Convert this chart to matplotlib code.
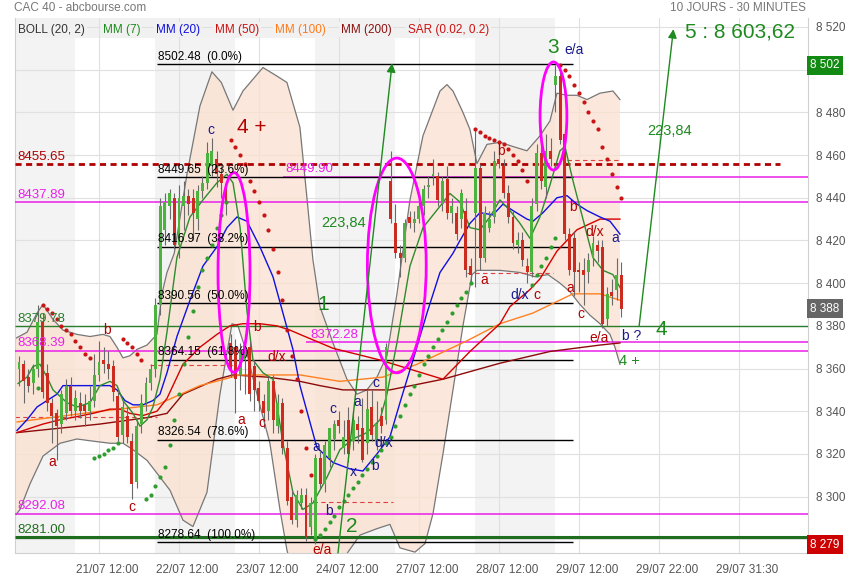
import numpy as np
import matplotlib.pyplot as plt
from matplotlib.patches import Ellipse
from matplotlib.transforms import blended_transform_factory

plt.rcParams['font.family'] = ['Liberation Sans', 'DejaVu Sans']

# bar index: 0 = first half-hour bar of 21/07, 17 bars per session
bars = np.arange(-11, 118)

opens = ([8360, 8362, 8356, 8353, 8360, 8382, 8358, 8344, 8339, 8334, 8339]
         + [8352, 8340, 8344, 8343, 8340, 8345, 8357, 8364, 8362, 8361, 8347, 8329, 8338, 8326, 8307, 8334, 8344]
         + [8353, 8360, 8390, 8425, 8436, 8440, 8418, 8436, 8441, 8440, 8430, 8443, 8447, 8455, 8458, 8451, 8444]
         + [8372, 8370, 8357, 8364, 8370, 8361, 8351, 8345, 8340, 8354, 8333, 8344, 8323, 8300, 8289, 8297, 8301]
         + [8286, 8280, 8318, 8306, 8318, 8327, 8336, 8323, 8336, 8326, 8334, 8332, 8325, 8342, 8326, 8338, 8336]
         + [8448, 8428, 8414, 8412, 8431, 8428, 8430, 8436, 8445, 8450, 8450, 8437, 8449, 8433, 8433, 8430, 8434]
         + [8408, 8433, 8454, 8412, 8426, 8431, 8458, 8455, 8442, 8431, 8418, 8420, 8408, 8405, 8437, 8461, 8445]
         + [8462, 8493, 8497, 8470, 8423, 8421, 8406, 8406, 8405, 8412, 8418, 8417, 8383, 8396, 8397, 8404])
highs = ([8366, 8364, 8360, 8362, 8390, 8386, 8362, 8346, 8341, 8350, 8355]
         + [8356, 8350, 8349, 8348, 8352, 8367, 8373, 8370, 8368, 8364, 8350, 8345, 8342, 8330, 8336, 8348, 8356]
         + [8362, 8393, 8440, 8442, 8444, 8442, 8446, 8448, 8444, 8444, 8446, 8450, 8466, 8468, 8462, 8455, 8448]
         + [8376, 8374, 8372, 8376, 8373, 8364, 8354, 8348, 8356, 8357, 8348, 8346, 8326, 8303, 8303, 8304, 8304]
         + [8300, 8320, 8322, 8326, 8332, 8336, 8340, 8336, 8342, 8340, 8338, 8346, 8350, 8350, 8345, 8342, 8372]
         + [8462, 8437, 8418, 8430, 8434, 8434, 8440, 8446, 8450, 8458, 8452, 8450, 8455, 8440, 8436, 8444, 8440]
         + [8412, 8472, 8456, 8436, 8434, 8462, 8466, 8458, 8446, 8434, 8424, 8424, 8412, 8440, 8465, 8472, 8470]
         + [8468, 8502, 8502, 8472, 8426, 8424, 8410, 8412, 8414, 8422, 8420, 8420, 8398, 8402, 8412, 8410])
lows = ([8352, 8344, 8349, 8348, 8356, 8346, 8340, 8325, 8317, 8330, 8336]
        + [8338, 8336, 8337, 8333, 8336, 8342, 8354, 8358, 8355, 8345, 8326, 8325, 8325, 8299, 8304, 8330, 8340]
        + [8350, 8356, 8385, 8418, 8430, 8416, 8412, 8425, 8432, 8420, 8425, 8440, 8444, 8450, 8445, 8440, 8432]
        + [8356, 8339, 8350, 8348, 8345, 8340, 8340, 8332, 8336, 8330, 8330, 8320, 8296, 8287, 8286, 8294, 8279]
        + [8282, 8278, 8304, 8302, 8314, 8322, 8330, 8320, 8316, 8322, 8325, 8316, 8320, 8326, 8322, 8330, 8334]
        + [8428, 8412, 8403, 8410, 8426, 8424, 8428, 8432, 8440, 8446, 8436, 8434, 8430, 8428, 8420, 8426, 8403]
        + [8400, 8398, 8406, 8410, 8424, 8428, 8454, 8440, 8428, 8416, 8414, 8408, 8400, 8403, 8434, 8444, 8440]
        + [8455, 8480, 8465, 8420, 8404, 8394, 8396, 8390, 8400, 8408, 8410, 8379, 8380, 8390, 8392, 8384])
closes = ([8363, 8354, 8352, 8360, 8382, 8349, 8344, 8338, 8333, 8348, 8352]
          + [8340, 8346, 8340, 8340, 8345, 8357, 8363, 8362, 8360, 8349, 8328, 8342, 8328, 8306, 8333, 8344, 8353]
          + [8360, 8390, 8436, 8438, 8442, 8418, 8440, 8441, 8437, 8433, 8443, 8447, 8461, 8462, 8451, 8447, 8437]
          + [8360, 8355, 8368, 8371, 8348, 8350, 8345, 8339, 8354, 8336, 8344, 8323, 8298, 8289, 8301, 8301, 8281]
          + [8297, 8318, 8306, 8324, 8332, 8334, 8333, 8328, 8320, 8336, 8331, 8317, 8341, 8329, 8334, 8333, 8370]
          + [8430, 8414, 8412, 8428, 8428, 8430, 8436, 8444, 8446, 8451, 8439, 8448, 8433, 8436, 8423, 8442, 8406]
          + [8404, 8454, 8412, 8433, 8430, 8457, 8456, 8442, 8431, 8419, 8420, 8411, 8405, 8436, 8461, 8448, 8462]
          + [8458, 8497, 8467, 8423, 8406, 8405, 8405, 8404, 8411, 8419, 8415, 8381, 8395, 8394, 8404, 8388])

# parabolic SAR, one value per bar (None = not drawn)
sar = ([None, None, None, None, 8351]
       + [8390, 8388, 8386, 8383, 8380, 8378, 8376, 8373, 8370, 8367, 8365]
       + [8318, 8319, 8320, 8322, 8323, 8325]
       + [8374, 8372, 8370, 8367, 8364]
       + [8299, 8301, 8305, 8309, 8314, 8324, 8336, 8348, 8362, 8375, 8387, 8398, 8406, 8412, 8418, 8426, 8432, 8438]
       + [8467, 8464, 8460, 8456, 8448, 8443, 8438, 8432, 8425, 8416, 8405, 8392, 8378, 8366, 8355, 8340, 8323, 8310]
       + [8280, 8282, 8285, 8288, 8291, 8295, 8298, 8301, 8304, 8307, 8310, 8313, 8316, 8319, 8322, 8325, 8328,
          8333, 8338, 8343, 8348, 8352, 8357, 8362, 8366, 8370, 8374, 8378, 8382, 8386, 8390, 8393, 8396, 8400]
       + [8472, 8471, 8469, 8468, 8467, 8466, 8465, 8463, 8460, 8457, 8453, 8448]
       + [8399, 8404, 8408, 8412, 8417, 8421]
       + [8502, 8500, 8497, 8493, 8489, 8485, 8480, 8476, 8472, 8464, 8458, 8451, 8445, 8440])

# indicator curves: (bar, value)
boll_up = [(-11.85, 8374), (-9.3, 8377), (-7.17, 8386), (-5.9, 8390), (-3.77, 8383), (-1.65, 8378), (1.33, 8376),
           (4.09, 8375), (6.85, 8376), (8.34, 8375), (9.82, 8370), (11.1, 8365), (12.59, 8366), (14.08, 8369),
           (16.2, 8371), (18.32, 8376), (19.38, 8395), (20.45, 8405), (22.0, 8414), (24.7, 8451), (27.46, 8483),
           (30.0, 8499), (32.0, 8494), (34.48, 8481), (36.6, 8490), (40.85, 8501), (43.82, 8497), (45.95, 8494),
           (48.71, 8473), (50.2, 8440), (51.47, 8411), (52.96, 8389), (55.73, 8372), (58.7, 8355), (60.83, 8348),
           (62.95, 8350), (65.08, 8356), (67.2, 8366), (69.33, 8395), (72.1, 8439), (74.86, 8469), (78.48, 8490),
           (79.96, 8493), (81.24, 8490), (83.36, 8480), (84.85, 8472), (86.34, 8456), (88.46, 8465), (91.23, 8466),
           (93.99, 8464), (96.96, 8462), (99.73, 8469), (101.86, 8476), (103.34, 8489), (105.47, 8488),
           (107.59, 8488), (109.72, 8486), (112.48, 8489), (115.24, 8490), (116.73, 8486)]
boll_low = [(-11.85, 8291), (-10.79, 8294), (-8.66, 8306), (-5.9, 8319), (-2.29, 8325), (1.33, 8327), (4.72, 8326),
            (8.34, 8325), (11.1, 8325), (13.23, 8322), (16.2, 8317), (18.32, 8311), (21.09, 8303), (23.85, 8289),
            (25.97, 8286), (28.95, 8302), (31.71, 8348), (34.27, 8381), (35.54, 8380), (37.45, 8367), (39.58, 8348),
            (42.33, 8325), (44.46, 8294), (45.95, 8275), (48.07, 8256), (52.96, 8256), (58.28, 8272), (61.47, 8282),
            (65.08, 8285), (67.84, 8287), (69.97, 8276), (73.16, 8274), (75.29, 8278), (76.99, 8292), (79.11, 8320),
            (81.24, 8350), (83.36, 8380), (85.28, 8404), (86.34, 8406), (91.23, 8406), (95.48, 8405), (98.67, 8403),
            (101.43, 8404), (103.98, 8400), (106.1, 8396), (108.23, 8390), (110.35, 8385), (112.48, 8381),
            (114.61, 8376), (115.67, 8370), (116.73, 8362)]
mm7 = [(-11.21, 8353), (-9.3, 8356), (-8.02, 8361), (-6.54, 8362), (-5.05, 8356), (-3.77, 8350), (-2.29, 8347),
       (-0.8, 8344), (1.33, 8342), (4.09, 8344), (6.21, 8352), (8.34, 8354), (9.82, 8352), (11.1, 8345),
       (13.23, 8339), (14.71, 8333), (16.2, 8336), (17.47, 8342), (18.96, 8355), (20.45, 8377), (22.57, 8412),
       (25.34, 8431), (28.1, 8439), (31.07, 8447), (33.2, 8451), (34.48, 8447), (36.0, 8426), (37.45, 8387),
       (38.73, 8364), (40.85, 8358), (42.98, 8355), (45.1, 8325), (47.22, 8302), (49.35, 8294), (51.47, 8297),
       (54.45, 8309), (57.21, 8322), (59.98, 8327), (62.95, 8330), (65.72, 8336), (67.2, 8348), (69.33, 8372),
       (72.1, 8408), (74.86, 8426), (78.48, 8436), (80.6, 8442), (82.73, 8438), (84.85, 8426), (86.97, 8425),
       (89.1, 8431), (91.23, 8439), (93.35, 8434), (95.48, 8428), (97.6, 8421), (99.73, 8431), (101.86, 8446),
       (103.98, 8462), (105.04, 8464), (106.74, 8448), (108.87, 8430), (110.99, 8412), (113.12, 8406),
       (115.24, 8404), (116.73, 8398)]
mm20 = [(-11.42, 8331), (-9.3, 8336), (-7.17, 8342), (-5.05, 8345), (-2.92, 8348), (-1.65, 8352), (1.33, 8352),
        (4.09, 8352), (6.85, 8352), (8.34, 8352), (9.82, 8350), (11.52, 8345), (13.23, 8343), (15.35, 8343),
        (17.47, 8345), (18.96, 8348), (20.45, 8358), (22.57, 8375), (25.34, 8392), (28.1, 8408), (31.07, 8417),
        (33.2, 8426), (35.33, 8431), (37.45, 8429), (40.21, 8417), (42.98, 8403), (45.1, 8386), (47.22, 8369),
        (48.71, 8352), (52.32, 8323), (55.73, 8316), (59.34, 8313), (62.1, 8312), (65.08, 8320), (67.84, 8328),
        (69.97, 8344), (72.74, 8364), (75.71, 8386), (78.48, 8405), (81.24, 8414), (82.73, 8420), (84.85, 8428),
        (86.97, 8433), (89.74, 8432), (91.86, 8437), (93.99, 8434), (96.96, 8430), (98.24, 8429), (100.37, 8433),
        (103.34, 8440), (105.47, 8441), (107.59, 8437), (109.72, 8434), (112.48, 8431), (114.61, 8429),
        (116.73, 8423)]
mm50 = [(-11.42, 8330), (-8.66, 8332), (-5.9, 8334), (-2.29, 8336), (1.33, 8337.5), (4.72, 8339), (8.34, 8341),
        (10.46, 8341), (12.59, 8339), (15.35, 8338), (18.32, 8340), (20.45, 8346), (23.85, 8362), (27.46, 8370),
        (31.07, 8376), (33.84, 8380), (36.6, 8381), (40.21, 8381), (43.82, 8380), (46.59, 8378), (48.71, 8376),
        (55.73, 8369.5), (65.72, 8364), (79.11, 8355), (84.85, 8368), (91.23, 8381), (93.35, 8389), (97.6, 8397),
        (99.73, 8402), (103.34, 8415), (107.59, 8425), (112.48, 8430), (116.73, 8430)]
mm100 = [(-11.42, 8335), (6.21, 8340), (18.32, 8343), (27.46, 8352), (36.0, 8357), (48.71, 8357), (57.21, 8354),
         (66.35, 8356), (73.59, 8362), (84.21, 8373), (91.23, 8381), (98.24, 8386), (106.74, 8395), (112.48, 8395),
         (116.73, 8392)]
mm200 = [(-11.42, 8330), (6.21, 8334), (16.2, 8337), (20.45, 8339), (23.85, 8348), (31.07, 8355), (34.48, 8357),
         (41.7, 8356), (48.71, 8354), (52.96, 8352), (57.85, 8350), (67.84, 8350), (79.11, 8355), (91.23, 8362.5),
         (101.86, 8368), (112.48, 8371), (116.73, 8372)]

# short dashed previous-session references: (start bar, end bar, value)
ref_dashes = [(-11.85, 18.3, 8337.5), (16.8, 34.5, 8361.6), (51.5, 68.5, 8297.6),
              (84.2, 102.6, 8404.6), (105.5, 116.7, 8457.7)]

fibo_levels = [8502.48, 8449.65, 8416.97, 8390.56, 8364.15, 8326.54, 8278.64]
fibo_pcts = ['0.0%', '23.6%', '38.2%', '50.0%', '61.8%', '78.6%', '100.0%']

MAG = '#ea1fea'
# (value, colour, width, dashed, start bar, label, label bar)
levels = [(8455.65, '#b00000', 2.0, True, -11.85, '8455.65', -11.3),
          (8449.90, MAG, 1.1, False, 45.1, '8449.90', 45.6),
          (8437.89, MAG, 1.1, False, -11.85, '8437.89', -11.3),
          (8379.78, '#2a7d2a', 1.0, False, -11.85, '8379.78', -11.3),
          (8372.28, MAG, 1.1, False, 50.0, '8372.28', 50.9),
          (8368.39, MAG, 1.1, False, -11.85, '8368.39', -11.3),
          (8292.08, MAG, 1.1, False, -11.85, '8292.08', -11.3),
          (8281.00, '#1f6e1f', 2.2, False, -11.85, '8281.00', -11.3)]

day_labels = ['21/07 12:00', '22/07 12:00', '23/07 12:00', '24/07 12:00', '27/07 12:00',
              '28/07 12:00', '29/07 12:00', '29/07 22:00', '29/07 31:30']

# right-hand price scale; 8 500 and 8 280 sit under the value boxes
price_ticks = list(range(8280, 8521, 20))
hidden_ticks = (8500, 8280)
value_boxes = [(8502, '8 502', '#138a13'), (8388, '8 388', '#666666'), (8277.5, '8 279', '#cc0000')]

RED_T = '#b40000'
BLUE_T = '#1a1a8c'
GREEN_T = '#1f8a1f'
# wave labels: (bar, value, text, colour, size)
wave_labels = [(29.8, 8471.8, 'c', BLUE_T, 10), (38.5, 8472.7, '4 +', RED_T, 15),
               (7.7, 8378.0, 'b', RED_T, 10), (-4.0, 8316.0, 'a', RED_T, 10), (13.0, 8295.0, 'c', RED_T, 10),
               (39.6, 8379.5, 'b', RED_T, 10), (36.2, 8336.0, 'a', RED_T, 10), (40.6, 8334.5, 'c', RED_T, 10),
               (43.8, 8365.4, 'd/x', RED_T, 10), (53.6, 8390.0, '1', GREEN_T, 15),
               (57.9, 8428.2, '223,84', GREEN_T, 10.5), (55.7, 8341.0, 'c', BLUE_T, 10),
               (61.0, 8344.4, 'a', BLUE_T, 10), (64.9, 8353.3, 'c', BLUE_T, 10), (52.1, 8323.3, 'a', BLUE_T, 10),
               (60.0, 8311.6, 'x', BLUE_T, 10), (64.7, 8314.4, 'b', BLUE_T, 10), (66.6, 8325.2, 'd/x', BLUE_T, 10),
               (54.9, 8293.3, 'b', BLUE_T, 10), (59.8, 8285.8, '2', GREEN_T, 15), (53.4, 8275.0, 'e/a', RED_T, 10),
               (102.5, 8510.2, '3', GREEN_T, 15), (107.0, 8509.2, 'e/a', BLUE_T, 10), (91.4, 8462.0, 'b', RED_T, 10),
               (87.8, 8401.5, 'a', RED_T, 10), (95.5, 8394.5, 'd/x', BLUE_T, 10), (99.1, 8394.5, 'c', RED_T, 10),
               (106.7, 8435.7, 'b', RED_T, 10), (111.4, 8424.0, 'd/x', RED_T, 10), (115.7, 8421.2, 'a', BLUE_T, 10),
               (106.1, 8397.8, 'a', RED_T, 10), (108.4, 8385.6, 'c', RED_T, 10), (112.2, 8374.3, 'e/a', RED_T, 10),
               (119.3, 8375.3, 'b ?', BLUE_T, 10), (125.6, 8378.1, '4', GREEN_T, 15),
               (118.8, 8363.6, '4 +', GREEN_T, 10.5), (127.3, 8471.3, '223,84', GREEN_T, 10.5),
               (142.2, 8517.8, '5 : 8 603,62', GREEN_T, 15)]

# highlight ellipses: (centre bar, centre value, width bars, height points)
ellipses = [(34.7, 8405.0, 6.8, 93.6), (69.3, 8408.3, 12.5, 100.6), (102.6, 8478.3, 5.7, 50.6)]
# projection arrows: (from bar, from value, to bar, to value)
arrows = [(56.8, 8273.6, 68.3, 8503.0), (120.8, 8379.8, 128.1, 8519.0)]


def xy(points):
    a = np.array(points, float)
    return a[:, 0], a[:, 1]


fig = plt.figure(figsize=(8.55, 5.8), dpi=100)
ax = fig.add_axes([15 / 855, 27 / 580, 793 / 855, 535 / 580])
ax.set_xlim(-11.85, 156.7)
ax.set_ylim(8273.6, 8524.2)

# alternating session shading
for k in (-1, 1, 3, 5):
    ax.axvspan(17 * k + 1, 17 * k + 18, color='#f3f3f3', lw=0, zorder=0)
# legend strip
ax.axhspan(8514.6, 8524.2, xmin=0, xmax=485 / 793, color='#f1f1f1', lw=0, zorder=0.2)

ax.set_xticks([6 + 17 * k for k in range(len(day_labels))])
ax.set_yticks(price_ticks)
ax.grid(True, color='#e0e0e0', lw=0.8)
ax.set_axisbelow(True)

# Bollinger envelope
ux, uv = xy(boll_up)
lx, lv = xy(boll_low)
ax.fill(np.r_[ux, lx[::-1]], np.r_[uv, lv[::-1]], color='#fbe2d2', alpha=0.8, lw=0, zorder=1)
ax.plot(ux, uv, color='#777777', lw=0.9, zorder=2)
ax.plot(lx, lv, color='#777777', lw=0.9, zorder=2)

for x0, x1, v in ref_dashes:
    ax.hlines(v, x0, x1, color='#e04040', lw=0.8, linestyles=(0, (4, 3)), zorder=2.5)

for v, col, lw, dashed, x0, lab, lab_x in levels:
    ax.hlines(v, x0, 150.7 if dashed else 156.7, color=col, lw=lw,
              linestyles=(0, (2.2, 1.6)) if dashed else 'solid', zorder=3)
    ax.text(lab_x, v + 0.7, lab, color=col, fontsize=9.5, ha='left', va='bottom', zorder=8)

for v, pct in zip(fibo_levels, fibo_pcts):
    ax.hlines(v, 18.3, 106.8, color='black', lw=1.0, zorder=3)
    ax.text(18.5, v + 0.7, f"{v:.2f}  ({pct})", color='black', fontsize=8.5, ha='left', va='bottom', zorder=8)

for pts, col in ((mm200, '#8b0a0a'), (mm100, '#ff8020'), (mm50, '#d40000'), (mm20, '#1010e0'), (mm7, '#2e8b2e')):
    px_, pv_ = xy(pts)
    ax.plot(px_, pv_, color=col, lw=1.0, zorder=4)

# candles
o, h, l, c = (np.array(a, float) for a in (opens, highs, lows, closes))
up = c >= o
ax.vlines(bars, l, h, color='#6a6a6a', lw=0.8, zorder=5)
ax.bar(bars, np.maximum(np.abs(c - o), 0.8), bottom=np.minimum(o, c), width=0.62,
       color=np.where(up, '#4cb33e', '#cc2b20'), lw=0, zorder=5.1)

# SAR dots
s = np.array([np.nan if v is None else v for v in sar], float)
below = s < (h + l) / 2
above = (s >= (h + l) / 2) & ~np.isnan(s)
ax.scatter(bars[below], s[below], s=9, color='#2f9e2f', lw=0, zorder=6)
ax.scatter(bars[above], s[above], s=9, color='#c81414', lw=0, zorder=6)

for cx, cy, w, hgt in ellipses:
    ax.add_patch(Ellipse((cx, cy), w, hgt, fill=False, ec='#ff00ff', lw=2.0, zorder=7))

for x0, y0, x1, y1 in arrows:
    ax.annotate('', xy=(x1, y1), xytext=(x0, y0), annotation_clip=False,
                arrowprops=dict(arrowstyle='-|>', color=GREEN_T, lw=1.0, mutation_scale=13,
                                shrinkA=0, shrinkB=0), zorder=7)

for x, v, txt, col, size in wave_labels:
    ax.text(x, v, txt, color=col, fontsize=size, ha='center', va='center', zorder=8)

# indicator legend row
legend_items = [(-11.2, 'BOLL (20, 2)', '#333333'), (6.85, 'MM (7)', '#1f8a1f'), (18.1, 'MM (20)', '#1010e0'),
                (30.7, 'MM (50)', '#cc1111'), (43.4, 'MM (100)', '#ff7a1a'), (57.4, 'MM (200)', '#8b1010'),
                (71.7, 'SAR (0.02, 0.2)', '#cc1111')]
for x, txt, col in legend_items:
    ax.text(x, 8518.8, txt, color=col, fontsize=8.5, ha='left', va='center', zorder=9,
            bbox=dict(boxstyle='square,pad=0.15', fc='#f1f1f1', ec='none'))

# axes styling
ax.yaxis.tick_right()
ax.set_yticklabels(['' if v in hidden_ticks else f"{v // 1000} {v % 1000:03d}" for v in price_ticks])
ax.tick_params(axis='y', length=0, pad=6, labelsize=8.5, labelcolor='#555555')
ax.tick_params(axis='x', length=0, labelbottom=False)
for side in ('left', 'right', 'bottom'):
    ax.spines[side].set_color('#d0d0d0')
ax.spines['top'].set_visible(False)

trans_x = blended_transform_factory(ax.transData, ax.transAxes)
for k, lab in enumerate(day_labels):
    ax.text(6 + 17 * k + 1.7, -0.032, lab, transform=trans_x, ha='center', va='center',
            fontsize=8.5, color='#555555', clip_on=False)

trans_y = blended_transform_factory(ax.transAxes, ax.transData)
for v, txt, col in value_boxes:
    ax.text(1.003, v, txt, transform=trans_y, ha='left', va='center', fontsize=8.5, color='white',
            clip_on=False, zorder=10,
            bbox=dict(boxstyle='square,pad=0.3', fc=col, ec='none'))

fig.text(14 / 855, 1 - 8 / 580, 'CAC 40 - abcbourse.com', fontsize=8.5, color='#777777', va='center', ha='left')
fig.text(806 / 855, 1 - 8 / 580, '10 JOURS - 30 MINUTES', fontsize=8.5, color='#777777', va='center', ha='right')

fig.savefig('out.png', dpi=100)
